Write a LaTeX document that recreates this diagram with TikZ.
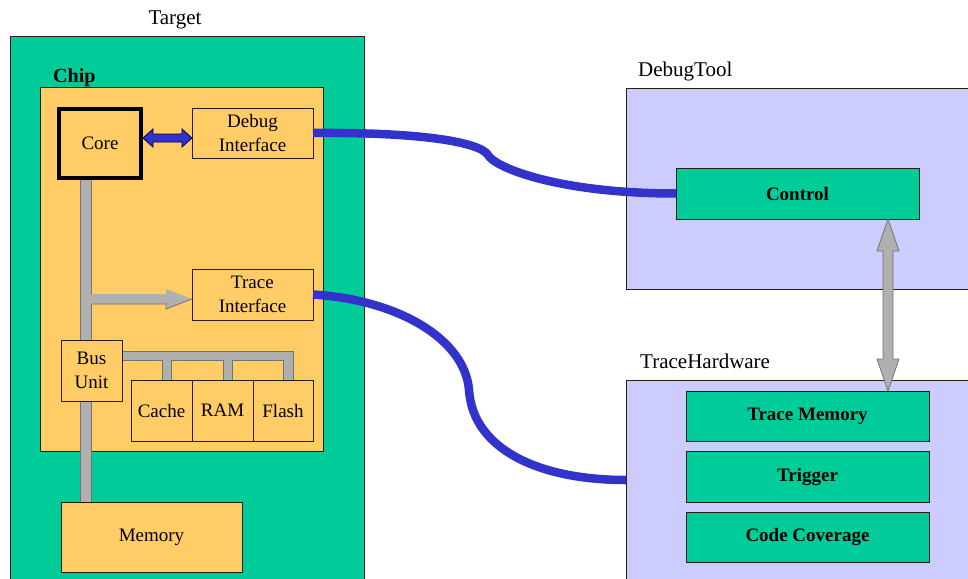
\documentclass[tikz,border=0pt]{standalone}
\usepackage{fontspec}
\newfontfamily\libserif{Liberation Serif}
\usetikzlibrary{calc}
\definecolor{tgreen}{RGB}{0,204,153}
\definecolor{orangebox}{RGB}{255,204,102}
\definecolor{lav}{RGB}{204,204,255}
\definecolor{cableblue}{RGB}{51,51,204}
\definecolor{bargray}{RGB}{176,176,176}
\definecolor{edge}{RGB}{40,30,20}
\pgfdeclarelayer{back}
\pgfdeclarelayer{mid}
\pgfsetlayers{back,mid,main}
\begin{document}
\begin{tikzpicture}[x=1pt,y=-1pt,
  region/.style={draw=edge, line width=1pt, inner sep=0pt, outer sep=0pt, anchor=north west},
  box/.style={region, fill=orangebox, align=center, font=\libserif\fontsize{19}{24}\selectfont},
  gbox/.style={region, fill=tgreen, align=center, font=\libserif\fontsize{19}{24}\selectfont\bfseries},
  lbl/.style={inner sep=0pt, font=\libserif\fontsize{21}{24}\selectfont},
  bar/.style={fill=bargray, draw=black!55, line width=0.8pt, line join=miter},
  bluearrow/.style={fill=cableblue, draw=black!70!blue, line width=0.8pt, line join=miter},
  cable/.style={draw=cableblue, line width=8.5pt, line cap=butt}
]
\useasboundingbox (0,0) rectangle (968,578);
\clip (0,0) rectangle (968,578);

\begin{pgfonlayer}{back}
\node[region, fill=tgreen, minimum width=354pt, minimum height=545pt] (target) at (10,37) {};
\node[region, fill=orangebox, minimum width=283pt, minimum height=364pt] (chip) at (40,87) {};
\node[region, fill=lav, minimum width=350pt, minimum height=201pt] (dbgtool) at (626,88) {};
\node[region, fill=lav, minimum width=350pt, minimum height=210pt] (tracehw) at (626,380) {};
\end{pgfonlayer}

\node[lbl, anchor=base] (targetlbl) at (175,25) {Target};
\node[lbl, anchor=base west, font=\libserif\fontsize{20}{24}\selectfont\bfseries] (chiplbl) at (53,82) {Chip};
\node[lbl, anchor=base west] (dbgtoollbl) at (638,76) {DebugTool};
\node[lbl, anchor=base west] (tracehwlbl) at (640,368) {TraceHardware};

% chip contents
\node[box, line width=4pt, draw=black, minimum width=82pt, minimum height=69pt] (core) at (59,109) {Core};
\node[box, minimum width=121pt, minimum height=50pt] (dbgif) at (192,108) {Debug\\Interface};
\node[box, minimum width=121pt, minimum height=51pt] (trcif) at (192,269) {Trace\\Interface};
\node[box, minimum width=61pt, minimum height=61pt] (busunit) at (61,340) {Bus\\Unit};
\node[box, minimum width=61pt, minimum height=61pt] (cache) at (131,380) {Cache};
\node[box, minimum width=61pt, minimum height=61pt] (ram) at (192,380) {RAM};
\node[box, minimum width=60pt, minimum height=61pt] (flash) at (253,380) {Flash};
\node[box, minimum width=181pt, minimum height=70pt] (memory) at (61,502) {Memory};

% debug tool / trace hardware contents
\node[gbox, minimum width=243pt, minimum height=51pt] (control) at (676,168) {Control};
\node[gbox, minimum width=243pt, minimum height=50pt] (tmem) at (686,391) {Trace Memory};
\node[gbox, minimum width=243pt, minimum height=51pt] (trigger) at (686,451) {Trigger};
\node[gbox, minimum width=243pt, minimum height=50pt] (codecov) at (686,512) {Code Coverage};

% buses (behind the boxes)
\begin{pgfonlayer}{mid}
\coordinate (busx) at (85.5,0);
\draw[bar] ($(busx |- core.south)+(-5.5,0)$) rectangle ($(busx |- memory.north)+(5.5,0)$);
\draw[bar] ($(busunit.east)+(0,-19.5)$) -- (293,351) -- (293,380) -- (283,380) -- (283,360)
  -- (232,360) -- (232,380) -- (223,380) -- (223,360) -- (171,360) -- (171,380)
  -- (162,380) -- (162,360) -- ($(busunit.east)+(0,-10.5)$);
\coordinate (trtip) at ($(trcif.west)+(0,4.5)$);
\fill[bargray] (trtip) -- ++(-26,10) -- ++(0,-5) -- ++(-76,0) -- ++(0,-10) -- ++(76,0) -- ++(0,-5) -- cycle;
\draw[black!55, line width=0.8pt, line join=miter] ($(trtip)+(-101,5)$) -- ++(75,0) -- ++(0,5) -- (trtip) -- ++(-26,10) -- ++(0,-5) -- ++(-75,0);
\end{pgfonlayer}

% core <-> debug interface
\coordinate (cl) at ($(core.east)+(2,-5.5)$);
\draw[bluearrow] (cl) -- ++(10,-9) -- ++(0,5) -- ++(29,0) -- ++(0,-5) -- ++(10,9)
  -- ++(-10,9) -- ++(0,-5) -- ++(-29,0) -- ++(0,5) -- cycle;

% control <-> trace memory
\coordinate (vt) at ($(control.south east)+(-31,0)$);
\draw[bar] (vt) -- ++(11,32) -- ++(-6,0) -- ++(0,108) -- ++(6,0) -- ++(-11,32)
  -- ++(-11,-32) -- ++(6,0) -- ++(0,-108) -- ++(-6,0) -- cycle;

% cables
\draw[cable] (dbgif.east) .. controls (420,132) and (480,142) .. (488,155)
  .. controls (495,168) and (560,193.5) .. (control.west);
\coordinate (thin) at ($(tracehw.north west)+(0,100)$);
\draw[cable] (trcif.east) .. controls (400,300) and (465,340) .. (469,390)
  .. controls (473,450) and (540,480) .. (thin);
\end{tikzpicture}
\end{document}
